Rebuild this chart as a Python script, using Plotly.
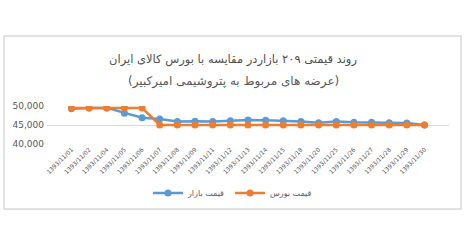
import plotly.graph_objects as go

dates = ["1393/11/01", "1393/11/02", "1393/11/04", "1393/11/05", "1393/11/06",
         "1393/11/07", "1393/11/08", "1393/11/09", "1393/11/11", "1393/11/12",
         "1393/11/13", "1393/11/14", "1393/11/15", "1393/11/18", "1393/11/20",
         "1393/11/25", "1393/11/26", "1393/11/27", "1393/11/28", "1393/11/29",
         "1393/11/30"]
market_price = [49300, 49500, 49500, 48100, 46900, 46600, 45900, 46000, 45900, 46100,
                46300, 46250, 46100, 45900, 45600, 45900, 45700, 45700, 45600, 45500,
                45000]
exchange_price = [49500, 49500, 49500, 49500, 49500, 45000, 45000, 45000, 45000, 45000,
                  45000, 45000, 45000, 45000, 45000, 45000, 45000, 45000, 45000, 45000,
                  45000]
y_ticks = [40000, 45000, 50000]
title_line1 = "روند قیمتی ۲۰۹ بازاردر مقایسه با بورس کالای ایران"
title_line2 = "(عرضه های مربوط به پتروشیمی امیرکبیر)"
series_names = ["قیمت بازار", "قیمت بورس"]

BLUE = "#5B9BD5"
ORANGE = "#ED7D31"
GRAY = "#595959"
FONT = "DejaVu Sans, Noto Sans, sans-serif"

fig = go.Figure()
fig.add_trace(go.Scatter(x=dates, y=market_price, name=series_names[0], mode="lines+markers",
                         line=dict(color=BLUE, width=2.5), marker=dict(color=BLUE, size=7)))
fig.add_trace(go.Scatter(x=dates, y=exchange_price, name=series_names[1], mode="lines+markers",
                         line=dict(color=ORANGE, width=2.5), marker=dict(color=ORANGE, size=7)))

fig.update_layout(
    width=465, height=245,
    margin=dict(l=47, r=16, t=106, b=101),
    paper_bgcolor="white", plot_bgcolor="white",
    font=dict(family=FONT, color=GRAY),
    showlegend=True,
    legend=dict(orientation="h", x=0.5, xanchor="center", xref="container",
                y=1 - 193 / 245, yanchor="middle", yref="container",
                font=dict(size=8, color=GRAY), itemwidth=30, tracegroupgap=0),
    xaxis=dict(type="category", tickangle=-45, tickfont=dict(size=6, color=GRAY),
               showgrid=False, showline=False, ticks="", zeroline=False, automargin=False),
    yaxis=dict(range=[40000, 50000], tickvals=y_ticks, tickformat=",d",
               tickfont=dict(size=9, color=GRAY), gridcolor="#D9D9D9", gridwidth=1,
               showline=False, zeroline=False, ticks="", ticklabelstandoff=2, automargin=False),
    shapes=[dict(type="rect", xref="paper", yref="paper",
                 x0=-43 / 402, x1=(461 - 47) / 402, y0=(144 - 209) / 38, y1=(144 - 36) / 38,
                 line=dict(color="#D9D9D9", width=1.5), fillcolor="rgba(0,0,0,0)", layer="below")],
    annotations=[
        dict(text=title_line1, xref="paper", yref="paper", x=(233 - 47) / 402,
             y=(144 - 59) / 38, showarrow=False, xanchor="center", yanchor="middle",
             font=dict(size=11.5, color="#505050")),
        dict(text=title_line2, xref="paper", yref="paper", x=(233 - 47) / 402,
             y=(144 - 81) / 38, showarrow=False, xanchor="center", yanchor="middle",
             font=dict(size=12, color=GRAY)),
    ],
)

fig.write_html("out.html")
